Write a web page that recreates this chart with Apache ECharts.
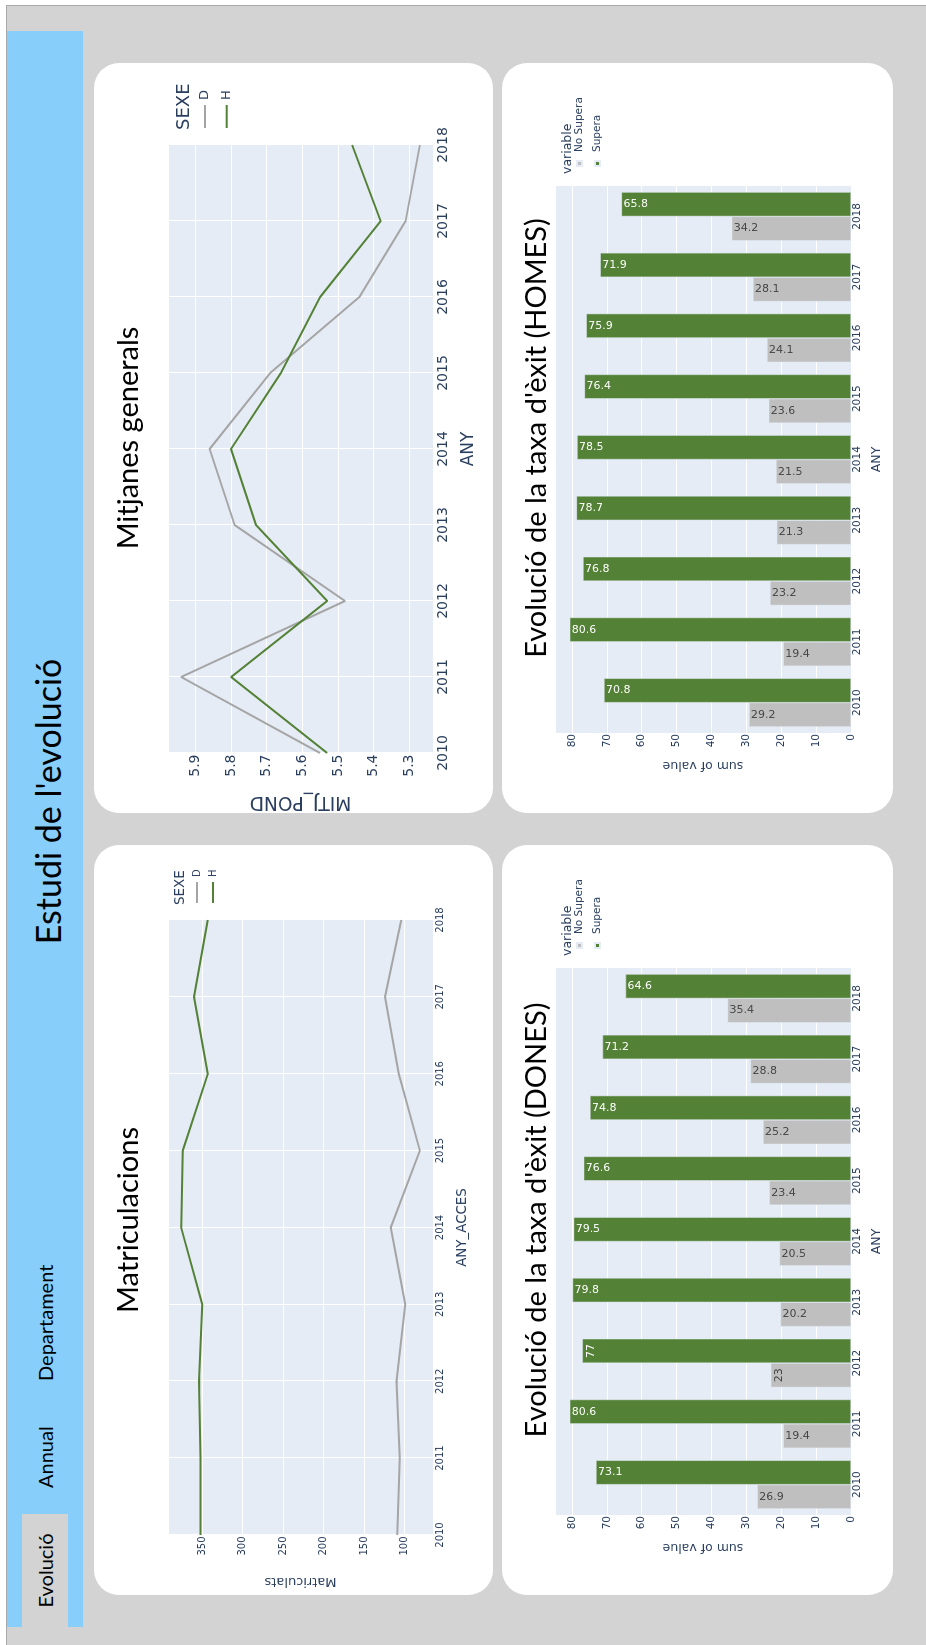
<!DOCTYPE html>
<html>
<head>
<meta charset="utf-8">
<title>Estudi de l'evolució</title>
<script src="https://cdn.jsdelivr.net/npm/echarts@6/dist/echarts.min.js"></script>
<style>
  html, body { margin: 0; padding: 0; background: #fff; overflow: hidden; width: 926px; height: 1645px; }
  /* the dashboard is laid out landscape and turned a quarter turn */
  #page { position: absolute; left: 0; top: 0; width: 1645px; height: 926px;
          transform-origin: 0 0; transform: translate(0, 1645px) rotate(-90deg); }
  #frame { position: absolute; left: 0; top: 6px; width: 1640px; height: 920px; background: #d3d3d3;
           border-top: 1px solid #a8a8a8; border-right: 1px solid #a8a8a8; box-sizing: border-box; }
  #header { position: absolute; left: 18px; top: 7px; width: 1596px; height: 76px; background: #87cefa; }
  .tab { position: absolute; top: 22px; height: 46px; line-height: 46px; font-family: Lato, sans-serif;
         font-size: 20px; color: #000; white-space: nowrap; }
  #tab0 { left: 18px; width: 113px; background: #d3d3d3; text-align: center; }
  #tab1 { left: 157px; }
  #tab2 { left: 264px; }
  #heading { position: absolute; left: 0; width: 1687px; top: 10px; height: 76px; line-height: 76px;
             text-align: center; font-family: Lato, sans-serif; font-size: 34px; color: #000; white-space: nowrap; }
  .card { position: absolute; width: 750px; background: #fff; border-radius: 25px; overflow: hidden; }
  .card > div { position: absolute; left: 0; top: 0; width: 100%; height: 100%; }
</style>
</head>
<body>
<div id="page">
  <div id="frame"></div>
  <div id="header"></div>
  <div class="tab" id="tab0">Evolució</div>
  <div class="tab" id="tab1">Annual</div>
  <div class="tab" id="tab2">Departament</div>
  <div id="heading">Estudi de l'evolució</div>
  <div class="card" style="left:50px;top:94px;height:399px"><div id="chartMat"></div></div>
  <div class="card" style="left:832px;top:94px;height:399px"><div id="chartMit"></div></div>
  <div class="card" style="left:50px;top:502px;height:391px"><div id="chartDones"></div></div>
  <div class="card" style="left:832px;top:502px;height:391px"><div id="chartHomes"></div></div>
</div>
<script>
// ---- data ----
const years = ['2010', '2011', '2012', '2013', '2014', '2015', '2016', '2017', '2018'];
const sexes = ['D', 'H'];
const outcomes = ['No Supera', 'Supera'];

// enrolments per year of access
const matD = [109, 106, 110, 99, 117, 81, 107, 124, 104];
const matH = [352, 352, 354, 350, 376, 374, 343, 360, 343];

// weighted average mark per year
const mitD = [5.55, 5.94, 5.48, 5.79, 5.86, 5.69, 5.44, 5.31, 5.27];
const mitH = [5.53, 5.80, 5.53, 5.73, 5.80, 5.66, 5.55, 5.38, 5.46];

// success rate (%) – women
const donesSupera = [73.1, 80.6, 77, 79.8, 79.5, 76.6, 74.8, 71.2, 64.6];
const donesNoSupera = [26.9, 19.4, 23, 20.2, 20.5, 23.4, 25.2, 28.8, 35.4];

// success rate (%) – men
const homesSupera = [70.8, 80.6, 76.8, 78.7, 78.5, 76.4, 75.9, 71.9, 65.8];
const homesNoSupera = [29.2, 19.4, 23.2, 21.3, 21.5, 23.6, 24.1, 28.1, 34.2];

// ---- styling ----
const INK = '#2a3f5f';
const PLOT_BG = '#E5ECF6';
const MONO = 'DejaVu Sans';
const LINE_COLORS = ['#a5a5a5', '#538135'];
const BAR_COLORS = ['#bfbfbf', '#538135'];

function cardTitle(text) {
  return { text: text, left: 'center', top: 20, padding: 0,
           textStyle: { fontFamily: 'Lato', fontSize: 29, fontWeight: 'normal', color: '#000' } };
}

function lineOption(c) {
  const all = c.series[0].concat(c.series[1]);
  const lo = Math.min.apply(null, all), hi = Math.max.apply(null, all);
  const pad = (hi - lo) * 0.055;
  return {
    animation: false,
    backgroundColor: 'rgba(0,0,0,0)',
    textStyle: { fontFamily: MONO },
    title: [
      cardTitle(c.title),
      { text: 'SEXE', left: c.legendTitleX, top: c.legendTitleY, padding: 0,
        textStyle: { fontFamily: MONO, fontSize: c.legendTitleSize, fontWeight: 'normal', color: INK } }
    ],
    legend: {
      orient: 'vertical', left: c.legendX, top: c.legendY, padding: 0,
      icon: 'rect', itemWidth: c.legendLine, itemHeight: 2, itemGap: c.legendGap,
      data: sexes,
      textStyle: { fontFamily: MONO, fontSize: c.legendSize, lineHeight: c.legendLH, color: INK }
    },
    grid: { left: c.grid[0], top: c.grid[1], width: c.grid[2], height: c.grid[3],
            show: true, backgroundColor: PLOT_BG, borderWidth: 0, containLabel: false, outerBoundsMode: 'none' },
    xAxis: {
      type: 'category', data: years, boundaryGap: false,
      name: c.xName, nameLocation: 'middle', nameGap: c.xNameGap,
      nameTextStyle: { fontFamily: MONO, fontSize: c.nameSize, color: INK },
      axisLine: { show: false }, axisTick: { show: false },
      axisLabel: { fontFamily: MONO, fontSize: c.tickSize, color: INK, margin: c.xMargin },
      splitLine: { show: true, lineStyle: { color: '#fff', width: 1 } }
    },
    yAxis: {
      type: 'value', min: lo - pad, max: hi + pad, minInterval: c.step, maxInterval: c.step,
      name: c.yName, nameLocation: 'middle', nameGap: c.yNameGap,
      nameTextStyle: { fontFamily: MONO, fontSize: c.yNameSize, color: INK },
      axisLine: { show: false }, axisTick: { show: false },
      axisLabel: { fontFamily: MONO, fontSize: c.tickSize, color: INK, margin: c.yMargin,
                   showMinLabel: false, showMaxLabel: false },
      splitLine: { show: true, lineStyle: { color: '#fff', width: 1 } }
    },
    series: sexes.map(function (s, i) {
      return { name: s, type: 'line', data: c.series[i], symbol: 'none', showSymbol: false,
               lineStyle: { width: 2, color: LINE_COLORS[i] }, itemStyle: { color: LINE_COLORS[i] } };
    })
  };
}

function barOption(title, noSupera, supera) {
  const hi = Math.max.apply(null, noSupera.concat(supera)) * 1.0526;
  // labels read along the bar unless the text is short enough to sit across it
  const alongBar = { show: true, position: 'insideTop', rotate: -90, align: 'left', verticalAlign: 'middle',
                     distance: 2, fontFamily: MONO, fontSize: 11 };
  const acrossBar = { rotate: 0, align: 'center', verticalAlign: 'top', distance: 3 };
  const build = function (vals) {
    return vals.map(function (v) { return String(v).length > 2 ? v : { value: v, label: acrossBar }; });
  };
  const groups = [noSupera, supera];
  return {
    animation: false,
    backgroundColor: 'rgba(0,0,0,0)',
    textStyle: { fontFamily: MONO },
    title: [
      cardTitle(title),
      { text: 'variable', left: 639, top: 59, padding: 0,
        textStyle: { fontFamily: MONO, fontSize: 12.5, fontWeight: 'normal', color: INK } }
    ],
    legend: {
      orient: 'vertical', left: 646, top: 71.5, padding: 0,
      icon: 'rect', itemWidth: 5, itemHeight: 5, itemGap: 6,
      data: outcomes,
      textStyle: { fontFamily: MONO, fontSize: 10.5, lineHeight: 12, color: INK, padding: [0, 0, 0, 4] }
    },
    grid: { left: 80, top: 53, width: 547, height: 296,
            show: true, backgroundColor: PLOT_BG, borderWidth: 0, containLabel: false, outerBoundsMode: 'none' },
    xAxis: {
      type: 'category', data: years,
      name: 'ANY', nameLocation: 'middle', nameGap: 19.5,
      nameTextStyle: { fontFamily: MONO, fontSize: 12.5, color: INK },
      axisLine: { show: false }, axisTick: { show: false },
      axisLabel: { fontFamily: MONO, fontSize: 10.5, color: INK, margin: 1 },
      splitLine: { show: false }
    },
    yAxis: {
      type: 'value', min: 0, max: hi, interval: 10,
      name: 'sum of value', nameLocation: 'middle', nameGap: 26,
      nameTextStyle: { fontFamily: MONO, fontSize: 12.5, color: INK },
      axisLine: { show: false }, axisTick: { show: false },
      axisLabel: { fontFamily: MONO, fontSize: 10.5, color: INK, margin: 1, showMaxLabel: false },
      splitLine: { show: true, lineStyle: { color: '#fff', width: 1 } }
    },
    series: outcomes.map(function (name, i) {
      return {
        name: name, type: 'bar', data: build(groups[i]),
        barGap: '0%', barCategoryGap: '20%',
        itemStyle: { color: BAR_COLORS[i], borderColor: PLOT_BG, borderWidth: 0.5 },
        label: Object.assign({}, alongBar, { color: i === 0 ? '#444444' : '#ffffff' })
      };
    })
  };
}

echarts.init(document.getElementById('chartMat')).setOption(lineOption({
  title: 'Matriculacions', series: [matD, matH], step: 50,
  grid: [60, 74, 615, 265],
  xName: 'ANY_ACCES', xNameGap: 23, nameSize: 13.4, yName: 'Matriculats', yNameGap: 40, yNameSize: 13,
  tickSize: 10, xMargin: 2.5, yMargin: 1.5,
  legendTitleX: 690, legendTitleY: 79.4, legendTitleSize: 13.5,
  legendX: 692, legendY: 97, legendLine: 21, legendGap: 4, legendSize: 10, legendLH: 12
}));

echarts.init(document.getElementById('chartMit')).setOption(lineOption({
  title: 'Mitjanes generals', series: [mitD, mitH], step: 0.1,
  grid: [60, 74, 608, 265],
  xName: 'ANY', xNameGap: 27.5, nameSize: 17, yName: 'MITJ_POND', yNameGap: 39.5, yNameSize: 18.6,
  tickSize: 14, xMargin: 3, yMargin: 1.5,
  legendTitleX: 683, legendTitleY: 80.9, legendTitleSize: 18,
  legendX: 685, legendY: 103, legendLine: 23, legendGap: 5.7, legendSize: 13, legendLH: 16
}));

echarts.init(document.getElementById('chartDones')).setOption(
  barOption("Evolució de la taxa d'èxit (DONES)", donesNoSupera, donesSupera));

echarts.init(document.getElementById('chartHomes')).setOption(
  barOption("Evolució de la taxa d'èxit (HOMES)", homesNoSupera, homesSupera));
</script>
</body>
</html>
